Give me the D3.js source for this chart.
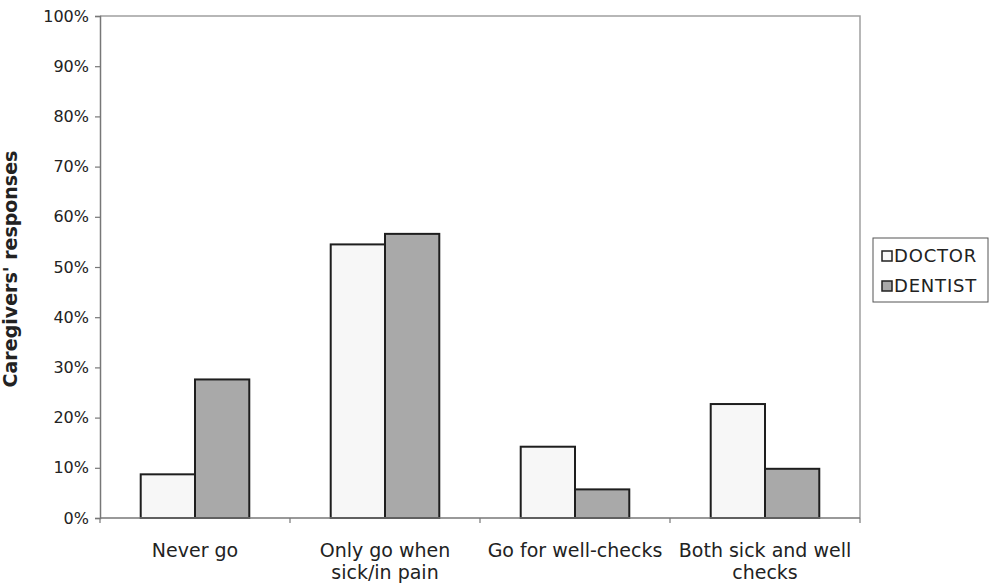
<!DOCTYPE html>
<html>
<head>
<meta charset="utf-8">
<script src="https://cdn.jsdelivr.net/npm/d3@7"></script>
<style>
  html, body { margin: 0; padding: 0; background: #fff; }
  svg { display: block; }
  text { font-family: "DejaVu Sans", Verdana, sans-serif; fill: #222; }
</style>
</head>
<body>
<svg id="chart" width="999" height="588"></svg>
<script>
// Where caregivers take children: doctor vs dentist visits
const categories = [
  ["Never go"],
  ["Only go when", "sick/in pain"],
  ["Go for well-checks"],
  ["Both sick and well", "checks"]
];
const seriesNames = ["DOCTOR", "DENTIST"];
const doctorValues  = [8.7, 54.5, 14.2, 22.7];
const dentistValues = [27.6, 56.6, 5.7, 9.8];
const yTicks = [0, 10, 20, 30, 40, 50, 60, 70, 80, 90, 100];

const seriesValues = [doctorValues, dentistValues];
const fills = ["#f7f7f7", "#a9a9a9"];

const svg = d3.select("#chart");
const margin = { left: 100, top: 16, right: 139, bottom: 70 };
const W = 999, H = 588;
const x0 = margin.left, x1 = W - margin.right;
const y0 = H - margin.bottom, y1 = margin.top;

const x = d3.scaleBand()
  .domain(d3.range(categories.length))
  .range([x0, x1])
  .paddingInner(0)
  .paddingOuter(0);

// two bars per category, gap of 1.5 bar widths split around the pair
const xs = d3.scaleBand()
  .domain(d3.range(seriesNames.length))
  .range([0, x.bandwidth()])
  .paddingInner(0)
  .paddingOuter(0.75);

const y = d3.scaleLinear().domain([0, 100]).range([y0, y1]);

// plot area frame (top and right edges)
svg.append("path")
  .attr("d", `M${x0},${y1}H${x1}V${y0}`)
  .attr("fill", "none")
  .attr("stroke", "#a0a0a0")
  .attr("stroke-width", 1.5);

// bars
const groups = svg.append("g").selectAll("g")
  .data(categories.map((c, i) => i))
  .join("g")
  .attr("transform", i => `translate(${x(i)},0)`);

groups.selectAll("rect")
  .data(i => seriesValues.map((vals, s) => ({ s, v: vals[i] })))
  .join("rect")
  .attr("x", d => xs(d.s))
  .attr("width", xs.bandwidth())
  .attr("y", d => y(d.v))
  .attr("height", d => y0 - y(d.v))
  .attr("fill", d => fills[d.s])
  .attr("stroke", "#1e1e1e")
  .attr("stroke-width", 2);

// y axis
const yAxis = svg.append("g")
  .attr("transform", `translate(${x0},0)`)
  .call(d3.axisLeft(y).tickValues(yTicks).tickFormat(d => d + "%").tickSize(5).tickPadding(6));
yAxis.select(".domain").attr("stroke", "#777").attr("stroke-width", 1.5);
yAxis.selectAll(".tick line").attr("stroke", "#777").attr("stroke-width", 1.2);
yAxis.selectAll("text")
  .attr("font-size", 16)
  .attr("fill", "#333")
  .style("font-family", '"DejaVu Sans", Verdana, sans-serif');

// x axis line with category boundary ticks
const bounds = d3.range(categories.length + 1).map(i => x0 + i * x.bandwidth());
svg.append("line")
  .attr("x1", x0).attr("x2", x1).attr("y1", y0).attr("y2", y0)
  .attr("stroke", "#777").attr("stroke-width", 1.5);
svg.append("g").selectAll("line")
  .data(bounds)
  .join("line")
  .attr("x1", d => d).attr("x2", d => d)
  .attr("y1", y0).attr("y2", y0 + 5)
  .attr("stroke", "#777").attr("stroke-width", 1.2);

// category labels
const labels = svg.append("g").selectAll("text")
  .data(categories)
  .join("text")
  .attr("x", (d, i) => x(i) + x.bandwidth() / 2)
  .attr("y", y0 + 39)
  .attr("text-anchor", "middle")
  .attr("font-size", 19)
  .attr("fill", "#2a2a2a");
labels.selectAll("tspan")
  .data(d => d)
  .join("tspan")
  .attr("x", function () { return d3.select(this.parentNode).attr("x"); })
  .attr("dy", (d, i) => i === 0 ? 0 : 22)
  .text(d => d);

// y axis title
svg.append("text")
  .attr("transform", `translate(17,${(y0 + y1) / 2 + 2}) rotate(-90)`)
  .attr("text-anchor", "middle")
  .attr("font-size", 19)
  .attr("font-weight", "bold")
  .text("Caregivers' responses");

// legend
const legend = svg.append("g").attr("transform", "translate(873,238)");
legend.append("rect")
  .attr("width", 115).attr("height", 64)
  .attr("fill", "#fff").attr("stroke", "#555").attr("stroke-width", 1);
const items = legend.selectAll("g.item")
  .data(seriesNames)
  .join("g")
  .attr("class", "item")
  .attr("transform", (d, i) => `translate(9,${18 + i * 30})`);
items.append("rect")
  .attr("x", 0).attr("y", -5).attr("width", 10).attr("height", 10)
  .attr("fill", (d, i) => fills[i])
  .attr("stroke", "#222").attr("stroke-width", 1.5);
items.append("text")
  .attr("x", 12).attr("y", 0).attr("dy", "0.36em")
  .attr("font-size", 18)
  .attr("letter-spacing", 0.8)
  .text(d => d);
</script>
</body>
</html>
